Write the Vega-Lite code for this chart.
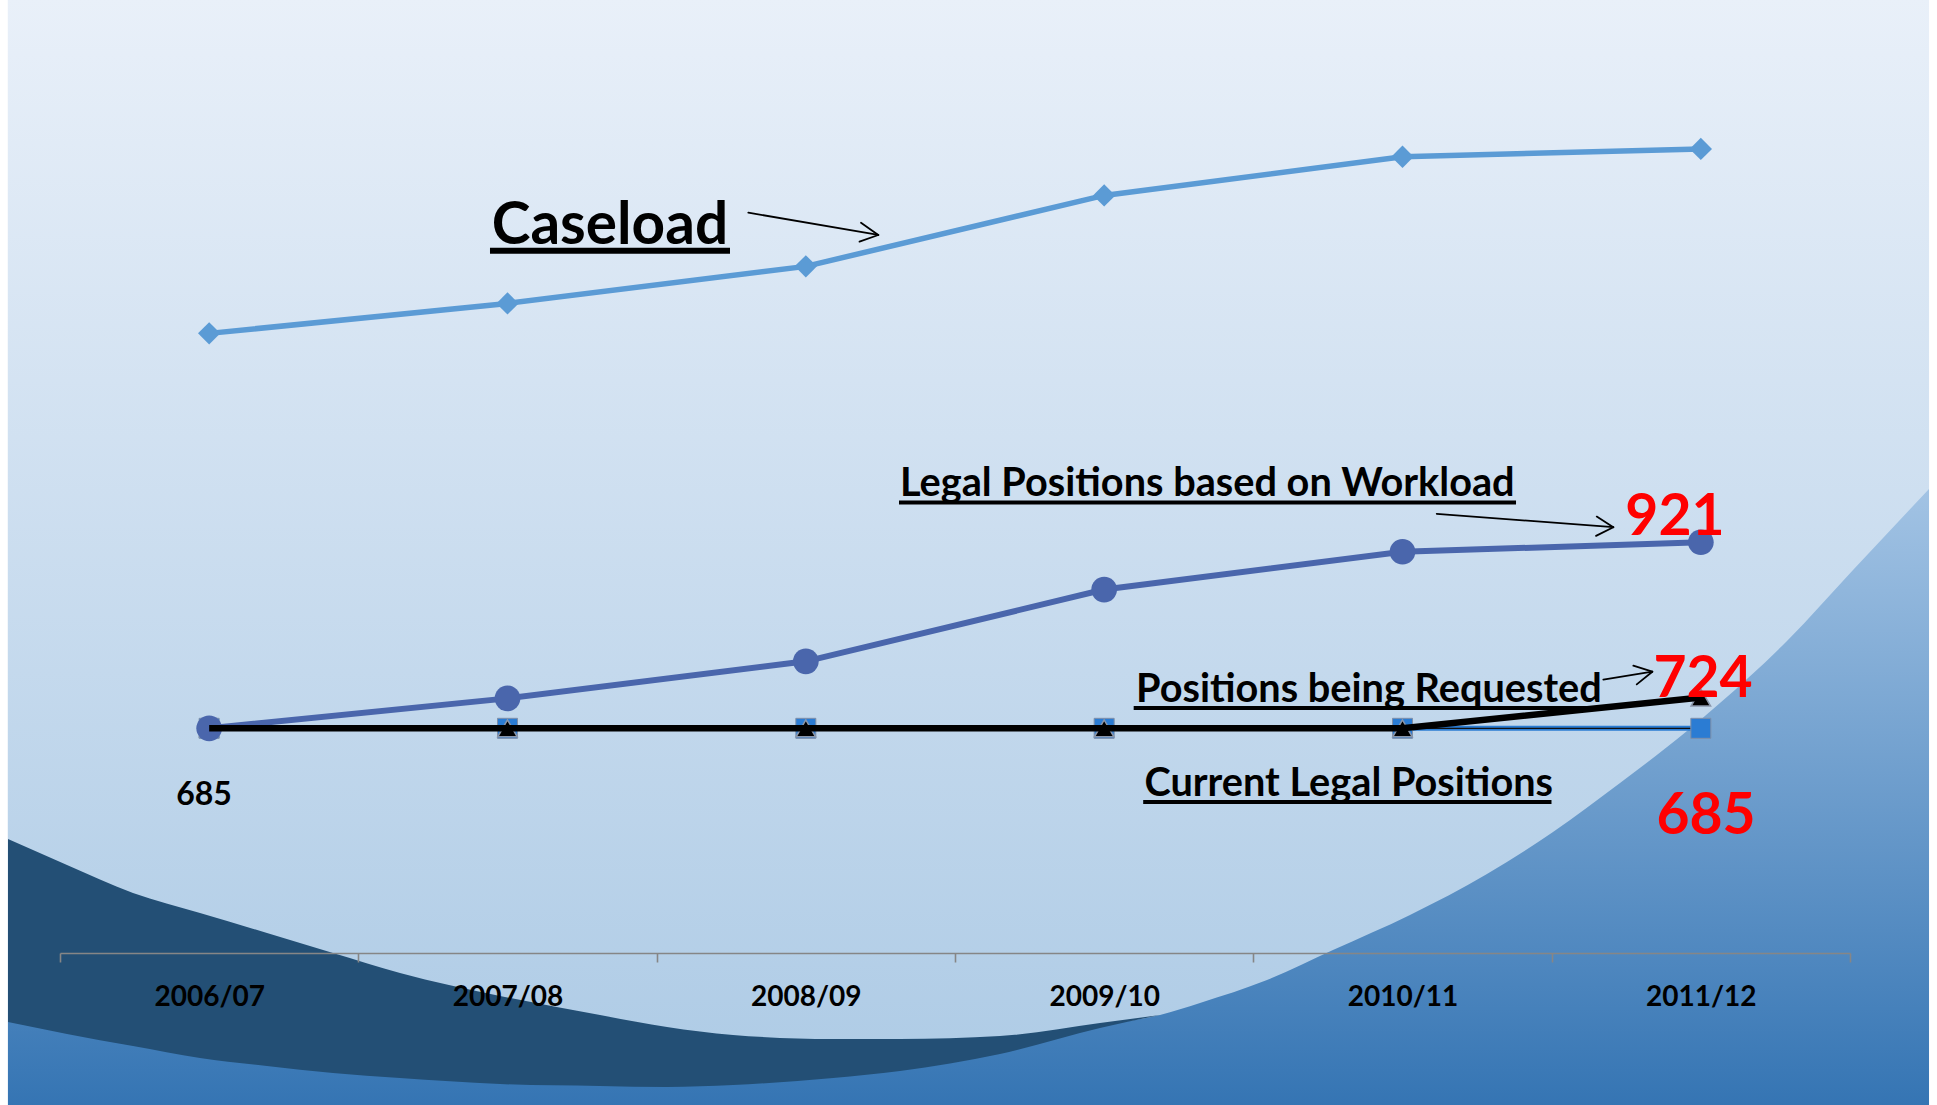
{
  "$schema": "https://vega.github.io/schema/vega-lite/v6.json",
  "width": 1790,
  "height": 946,
  "autosize": {"type": "none"},
  "padding": {"left": 60, "top": 7, "right": 87, "bottom": 152},
  "background": "white",
  "config": {
    "view": {"stroke": null},
    "font": "Lato",
    "axisY": {"grid": true, "labels": false, "ticks": false, "domain": false, "gridColor": "#868686", "gridWidth": 1.6, "tickCount": 6, "zindex": 1}
  },
  "datasets": {
    "series": [
      {"series": "Caseload", "year": "2006/07", "v": 1186},
      {"series": "Caseload", "year": "2007/08", "v": 1224},
      {"series": "Caseload", "year": "2008/09", "v": 1271},
      {"series": "Caseload", "year": "2009/10", "v": 1361},
      {"series": "Caseload", "year": "2010/11", "v": 1410},
      {"series": "Caseload", "year": "2011/12", "v": 1420},
      {"series": "Workload", "year": "2006/07", "v": 685},
      {"series": "Workload", "year": "2007/08", "v": 723},
      {"series": "Workload", "year": "2008/09", "v": 770},
      {"series": "Workload", "year": "2009/10", "v": 861},
      {"series": "Workload", "year": "2010/11", "v": 909},
      {"series": "Workload", "year": "2011/12", "v": 921},
      {"series": "Current", "year": "2006/07", "v": 685},
      {"series": "Current", "year": "2007/08", "v": 685},
      {"series": "Current", "year": "2008/09", "v": 685},
      {"series": "Current", "year": "2009/10", "v": 685},
      {"series": "Current", "year": "2010/11", "v": 685},
      {"series": "Current", "year": "2011/12", "v": 685},
      {"series": "Requested", "year": "2006/07", "v": 685},
      {"series": "Requested", "year": "2007/08", "v": 685},
      {"series": "Requested", "year": "2008/09", "v": 685},
      {"series": "Requested", "year": "2009/10", "v": 685},
      {"series": "Requested", "year": "2010/11", "v": 685},
      {"series": "Requested", "year": "2011/12", "v": 724}
    ],
    "frame": [{"fx": -0.175, "fx2": 6.265, "fy": 1612, "fy2": 200}],
    "blue": [
      {"bx": -0.1743, "by": 428.6}, {"bx": 0.0235, "by": 404.5}, {"bx": 0.2447, "by": 379.1},
      {"bx": 0.4693, "by": 358.8}, {"bx": 0.6939, "by": 341.0}, {"bx": 0.9151, "by": 323.9},
      {"bx": 1.1397, "by": 308.0}, {"bx": 1.4749, "by": 289.7}, {"bx": 1.8101, "by": 276.3},
      {"bx": 2.0346, "by": 268.0}, {"bx": 2.2559, "by": 264.3}, {"bx": 2.5911, "by": 266.2},
      {"bx": 2.8156, "by": 270.6}, {"bx": 3.1508, "by": 283.3}, {"bx": 3.4860, "by": 308.0},
      {"bx": 3.6872, "by": 321.3}, {"bx": 3.8212, "by": 336.6}, {"bx": 4.0458, "by": 365.7},
      {"bx": 4.2670, "by": 403.8}, {"bx": 4.5251, "by": 448.2}, {"bx": 4.7832, "by": 500.2},
      {"bx": 5.0045, "by": 553.5}, {"bx": 5.2291, "by": 615.6}, {"bx": 5.4536, "by": 681.6},
      {"bx": 5.5642, "by": 717.1}, {"bx": 5.7888, "by": 795.8}, {"bx": 6.0101, "by": 885.8},
      {"bx": 6.2648, "by": 988.6}
    ],
    "crescent": [
      {"cx": -0.1743, "cy": 544.6, "cy2": 312.5}, {"cx": 0.0235, "cy": 511.6, "cy2": 297.3},
      {"cx": 0.2447, "cy": 476.1, "cy2": 282.0}, {"cx": 0.4693, "cy": 450.7, "cy2": 266.8},
      {"cx": 0.6939, "cy": 425.4, "cy2": 256.6}, {"cx": 0.9151, "cy": 400.0, "cy2": 247.8},
      {"cx": 1.1397, "cy": 374.6, "cy2": 241.4}, {"cx": 1.4749, "cy": 345.5, "cy2": 233.8},
      {"cx": 1.8101, "cy": 321.3, "cy2": 231.3}, {"cx": 2.0346, "cy": 306.1, "cy2": 230.0},
      {"cx": 2.2559, "cy": 296.0, "cy2": 232.5}, {"cx": 2.5911, "cy": 290.9, "cy2": 241.4},
      {"cx": 2.8156, "cy": 290.9, "cy2": 250.3}, {"cx": 3.1508, "cy": 294.7, "cy2": 271.9},
      {"cx": 3.4860, "cy": 311.2, "cy2": 304.8}, {"cx": 3.6872, "cy": 321.3, "cy2": 321.3}
    ],
    "notes": [
      {"note": "Caseload", "kind": "title", "nx": 1.4471, "ny": 1299.0},
      {"note": "Legal Positions based on Workload", "kind": "label", "nx": 2.8156, "ny": 979.7},
      {"note": "Positions being Requested", "kind": "label", "nx": 3.6067, "ny": 718.8},
      {"note": "Current Legal Positions", "kind": "label", "nx": 3.6349, "ny": 599.5},
      {"note": "921", "kind": "value", "nx": 5.4133, "ny": 930},
      {"note": "724", "kind": "value", "nx": 5.5073, "ny": 724.4},
      {"note": "685", "kind": "value", "nx": 5.5173, "ny": 551},
      {"note": "685", "kind": "start", "nx": 0.4827, "ny": 587.7}
    ],
    "underlines": [
      {"kind": "title", "ux": 1.4413, "ux2": 2.2458, "uy": 1290.9},
      {"kind": "label", "ux": 2.8123, "ux2": 4.8805, "uy": 971.5},
      {"kind": "label", "ux": 3.5989, "ux2": 5.1620, "uy": 710.8},
      {"kind": "label", "ux": 3.6308, "ux2": 4.9994, "uy": 591.5}
    ],
    "arrows": [
      {"ax": 2.3072, "ay": 1339.1, "ax2": 2.7429, "ay2": 1310.8},
      {"ax": 2.6849, "ay": 1326.4, "ax2": 2.7429, "ay2": 1310.8},
      {"ax": 2.6799, "ay": 1302.3, "ax2": 2.7429, "ay2": 1310.8},
      {"ax": 4.6146, "ay": 957.1, "ax2": 5.2067, "ay2": 940.1},
      {"ax": 5.1511, "ay": 953.6, "ax2": 5.2067, "ay2": 940.1},
      {"ax": 5.1487, "ay": 929.1, "ax2": 5.2067, "ay2": 940.1},
      {"ax": 5.1732, "ay": 746.7, "ax2": 5.3374, "ay2": 756.8},
      {"ax": 5.2737, "ay": 764.4, "ax2": 5.3374, "ay2": 756.8},
      {"ax": 5.2851, "ay": 740.8, "ax2": 5.3374, "ay2": 756.8}
    ]
  },
  "layer": [
    {
      "layer": [
        {
          "data": {"name": "frame"},
          "mark": {"type": "rect", "opacity": 1, "color": {"gradient": "linear", "x1": 0, "y1": 0, "x2": 0, "y2": 1, "stops": [{"offset": 0, "color": "#E9F0F9"}, {"offset": 1, "color": "#ACCAE5"}]}},
          "encoding": {
            "x": {"field": "fx", "type": "quantitative", "axis": null, "scale": {"domain": [0, 6], "nice": false, "zero": false}},
            "x2": {"field": "fx2"},
            "y": {"field": "fy", "type": "quantitative", "title": null, "scale": {"domain": [400, 1600], "nice": false, "zero": false}},
            "y2": {"field": "fy2"}
          }
        },
        {
          "data": {"name": "blue"},
          "mark": {"type": "area", "opacity": 1, "interpolate": "monotone", "color": {"gradient": "linear", "x1": 0, "y1": 0, "x2": 0, "y2": 1, "stops": [{"offset": 0, "color": "#A2C3E4"}, {"offset": 1, "color": "#3474B3"}]}},
          "encoding": {
            "x": {"field": "bx", "type": "quantitative", "axis": null, "scale": {"domain": [0, 6], "nice": false, "zero": false}},
            "y": {"field": "by", "type": "quantitative", "title": null, "scale": {"domain": [400, 1600], "nice": false, "zero": false}},
            "y2": {"datum": 200}
          }
        },
        {
          "data": {"name": "crescent"},
          "mark": {"type": "area", "opacity": 1, "interpolate": "monotone", "color": "#234F75"},
          "encoding": {
            "x": {"field": "cx", "type": "quantitative", "axis": null, "scale": {"domain": [0, 6], "nice": false, "zero": false}},
            "y": {"field": "cy", "type": "quantitative", "title": null, "scale": {"domain": [400, 1600], "nice": false, "zero": false}},
            "y2": {"field": "cy2"}
          }
        }
      ]
    },
    {
      "data": {"name": "series"},
      "encoding": {
        "x": {
          "field": "year", "type": "nominal", "sort": null, "bandPosition": 0.5,
          "scale": {"type": "band", "paddingInner": 0, "paddingOuter": 0},
          "axis": {"title": null, "tickBand": "extent", "domainColor": "#868686", "domainWidth": 1.6, "tickColor": "#868686", "tickWidth": 1.6, "tickSize": 9, "labelFont": "Lato", "labelFontWeight": "bold", "labelFontSize": 28, "labelColor": "black", "labelPadding": 21, "labelAngle": 0, "labelBaseline": "top", "grid": false, "zindex": 1}
        },
        "y": {"field": "v", "type": "quantitative", "title": null, "scale": {"domain": [400, 1600], "nice": false, "zero": false}, "axis": {"values": [400, 600, 800, 1000, 1200, 1400, 1600]}}
      },
      "layer": [
        {"transform": [{"filter": "datum.series === 'Caseload'"}], "mark": {"type": "line", "color": "#5B9BD5", "strokeWidth": 5.5}},
        {"transform": [{"filter": "datum.series === 'Caseload'"}], "mark": {"type": "point", "shape": "diamond", "size": 500, "filled": true, "color": "#5B9BD5", "opacity": 1}},
        {"transform": [{"filter": "datum.series === 'Current'"}], "mark": {"type": "line", "color": "#2B7CD3", "strokeWidth": 5}},
        {"transform": [{"filter": "datum.series === 'Current'"}], "mark": {"type": "line", "color": "#111111", "strokeWidth": 1.3}},
        {"transform": [{"filter": "datum.series === 'Current'"}], "mark": {"type": "point", "shape": "square", "size": 400, "filled": true, "color": "#2B7CD3", "stroke": "#7F8FA8", "strokeWidth": 1, "opacity": 1}},
        {"transform": [{"filter": "datum.series === 'Requested'"}], "mark": {"type": "point", "shape": "triangle-up", "size": 380, "filled": true, "color": "black", "stroke": "#8A96AA", "strokeWidth": 1.5, "opacity": 1}},
        {"transform": [{"filter": "datum.series === 'Workload'"}], "mark": {"type": "line", "color": "#4A66AC", "strokeWidth": 6}},
        {"transform": [{"filter": "datum.series === 'Workload'"}], "mark": {"type": "point", "shape": "circle", "size": 660, "filled": true, "color": "#4A66AC", "opacity": 1}},
        {"transform": [{"filter": "datum.series === 'Requested'"}], "mark": {"type": "line", "color": "black", "strokeWidth": 6.5}}
      ]
    },
    {
      "layer": [
        {
          "data": {"name": "underlines"},
          "transform": [{"filter": "datum.kind === 'title'"}],
          "mark": {"type": "rule", "color": "black", "strokeWidth": 6},
          "encoding": {
            "x": {"field": "ux", "type": "quantitative", "axis": null, "scale": {"domain": [0, 6], "nice": false, "zero": false}},
            "x2": {"field": "ux2"},
            "y": {"field": "uy", "type": "quantitative", "title": null, "scale": {"domain": [400, 1600], "nice": false, "zero": false}}
          }
        },
        {
          "data": {"name": "underlines"},
          "transform": [{"filter": "datum.kind === 'label'"}],
          "mark": {"type": "rule", "color": "black", "strokeWidth": 4},
          "encoding": {
            "x": {"field": "ux", "type": "quantitative", "axis": null, "scale": {"domain": [0, 6], "nice": false, "zero": false}},
            "x2": {"field": "ux2"},
            "y": {"field": "uy", "type": "quantitative", "title": null, "scale": {"domain": [400, 1600], "nice": false, "zero": false}}
          }
        },
        {
          "data": {"name": "arrows"},
          "mark": {"type": "rule", "color": "black", "strokeWidth": 1.8, "strokeCap": "round"},
          "encoding": {
            "x": {"field": "ax", "type": "quantitative", "axis": null, "scale": {"domain": [0, 6], "nice": false, "zero": false}},
            "x2": {"field": "ax2"},
            "y": {"field": "ay", "type": "quantitative", "title": null, "scale": {"domain": [400, 1600], "nice": false, "zero": false}},
            "y2": {"field": "ay2"}
          }
        },
        {
          "data": {"name": "notes"},
          "transform": [{"filter": "datum.kind === 'title'"}],
          "mark": {"type": "text", "align": "left", "baseline": "alphabetic", "font": "Lato", "fontWeight": "bold", "fontSize": 58.5, "color": "black"},
          "encoding": {
            "x": {"field": "nx", "type": "quantitative", "axis": null, "scale": {"domain": [0, 6], "nice": false, "zero": false}},
            "y": {"field": "ny", "type": "quantitative", "title": null, "scale": {"domain": [400, 1600], "nice": false, "zero": false}},
            "text": {"field": "note"}
          }
        },
        {
          "data": {"name": "notes"},
          "transform": [{"filter": "datum.kind === 'label'"}],
          "mark": {"type": "text", "align": "left", "baseline": "alphabetic", "font": "Lato", "fontWeight": "bold", "fontSize": 39.7, "color": "black"},
          "encoding": {
            "x": {"field": "nx", "type": "quantitative", "axis": null, "scale": {"domain": [0, 6], "nice": false, "zero": false}},
            "y": {"field": "ny", "type": "quantitative", "title": null, "scale": {"domain": [400, 1600], "nice": false, "zero": false}},
            "text": {"field": "note"}
          }
        },
        {
          "data": {"name": "notes"},
          "transform": [{"filter": "datum.kind === 'value'"}],
          "mark": {"type": "text", "align": "center", "baseline": "alphabetic", "font": "Lato", "fontWeight": "bold", "fontSize": 57, "color": "#FF0000"},
          "encoding": {
            "x": {"field": "nx", "type": "quantitative", "axis": null, "scale": {"domain": [0, 6], "nice": false, "zero": false}},
            "y": {"field": "ny", "type": "quantitative", "title": null, "scale": {"domain": [400, 1600], "nice": false, "zero": false}},
            "text": {"field": "note"}
          }
        },
        {
          "data": {"name": "notes"},
          "transform": [{"filter": "datum.kind === 'start'"}],
          "mark": {"type": "text", "align": "center", "baseline": "alphabetic", "font": "Lato", "fontWeight": "bold", "fontSize": 32, "color": "black"},
          "encoding": {
            "x": {"field": "nx", "type": "quantitative", "axis": null, "scale": {"domain": [0, 6], "nice": false, "zero": false}},
            "y": {"field": "ny", "type": "quantitative", "title": null, "scale": {"domain": [400, 1600], "nice": false, "zero": false}},
            "text": {"field": "note"}
          }
        }
      ]
    }
  ],
  "resolve": {"scale": {"x": "independent"}}
}
